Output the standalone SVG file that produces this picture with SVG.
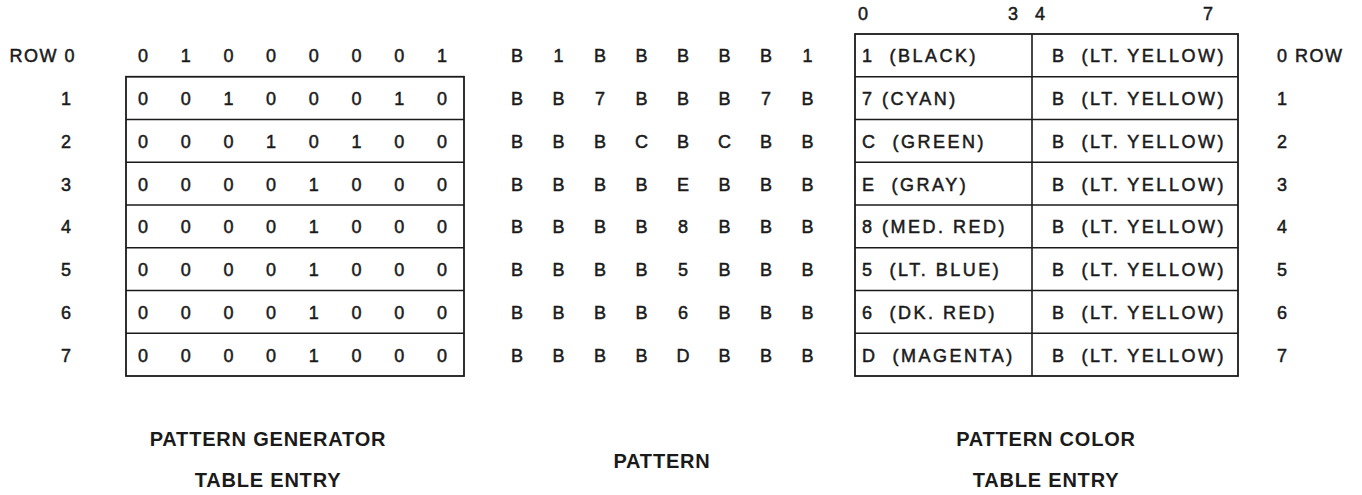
<svg xmlns="http://www.w3.org/2000/svg" width="1362" height="495" viewBox="0 0 1362 495">
<style>
text{font-family:"Liberation Sans",Arial,sans-serif;fill:#1a1a1a}
.t{font-size:18px;letter-spacing:2.5px;stroke:#1a1a1a;stroke-width:0.5}
.c{font-size:18px;text-anchor:middle;stroke:#1a1a1a;stroke-width:0.5}
.b{font-size:20px;font-weight:bold;letter-spacing:0.8px;text-anchor:middle}
.box{fill:none;stroke:#1a1a1a;stroke-width:1.8}
.ln{stroke:#1a1a1a;stroke-width:1.6}
</style>
<rect width="1362" height="495" fill="#fff"/>

<g id="row-labels-left">
<text class="t" x="76" y="62.3" text-anchor="end" style="letter-spacing:1.5px">ROW 0</text>
<text class="c" x="66" y="105">1</text>
<text class="c" x="66" y="147.8">2</text>
<text class="c" x="66" y="190.5">3</text>
<text class="c" x="66" y="233.3">4</text>
<text class="c" x="66" y="276">5</text>
<text class="c" x="66" y="318.8">6</text>
<text class="c" x="66" y="361.5">7</text>
</g>

<g id="pattern-generator-table">
<rect class="box" x="126" y="76.75" width="338" height="299.25"/>
<line class="ln" x1="126" y1="119.5" x2="464" y2="119.5"/>
<line class="ln" x1="126" y1="162.25" x2="464" y2="162.25"/>
<line class="ln" x1="126" y1="205" x2="464" y2="205"/>
<line class="ln" x1="126" y1="247.75" x2="464" y2="247.75"/>
<line class="ln" x1="126" y1="290.5" x2="464" y2="290.5"/>
<line class="ln" x1="126" y1="333.25" x2="464" y2="333.25"/>
<text class="c" y="62.3"><tspan x="143">0</tspan><tspan x="185.7">1</tspan><tspan x="228.4">0</tspan><tspan x="271.1">0</tspan><tspan x="313.8">0</tspan><tspan x="356.5">0</tspan><tspan x="399.2">0</tspan><tspan x="441.9">1</tspan></text>
<text class="c" y="105"><tspan x="143">0</tspan><tspan x="185.7">0</tspan><tspan x="228.4">1</tspan><tspan x="271.1">0</tspan><tspan x="313.8">0</tspan><tspan x="356.5">0</tspan><tspan x="399.2">1</tspan><tspan x="441.9">0</tspan></text>
<text class="c" y="147.8"><tspan x="143">0</tspan><tspan x="185.7">0</tspan><tspan x="228.4">0</tspan><tspan x="271.1">1</tspan><tspan x="313.8">0</tspan><tspan x="356.5">1</tspan><tspan x="399.2">0</tspan><tspan x="441.9">0</tspan></text>
<text class="c" y="190.5"><tspan x="143">0</tspan><tspan x="185.7">0</tspan><tspan x="228.4">0</tspan><tspan x="271.1">0</tspan><tspan x="313.8">1</tspan><tspan x="356.5">0</tspan><tspan x="399.2">0</tspan><tspan x="441.9">0</tspan></text>
<text class="c" y="233.3"><tspan x="143">0</tspan><tspan x="185.7">0</tspan><tspan x="228.4">0</tspan><tspan x="271.1">0</tspan><tspan x="313.8">1</tspan><tspan x="356.5">0</tspan><tspan x="399.2">0</tspan><tspan x="441.9">0</tspan></text>
<text class="c" y="276"><tspan x="143">0</tspan><tspan x="185.7">0</tspan><tspan x="228.4">0</tspan><tspan x="271.1">0</tspan><tspan x="313.8">1</tspan><tspan x="356.5">0</tspan><tspan x="399.2">0</tspan><tspan x="441.9">0</tspan></text>
<text class="c" y="318.8"><tspan x="143">0</tspan><tspan x="185.7">0</tspan><tspan x="228.4">0</tspan><tspan x="271.1">0</tspan><tspan x="313.8">1</tspan><tspan x="356.5">0</tspan><tspan x="399.2">0</tspan><tspan x="441.9">0</tspan></text>
<text class="c" y="361.5"><tspan x="143">0</tspan><tspan x="185.7">0</tspan><tspan x="228.4">0</tspan><tspan x="271.1">0</tspan><tspan x="313.8">1</tspan><tspan x="356.5">0</tspan><tspan x="399.2">0</tspan><tspan x="441.9">0</tspan></text>
</g>

<g id="pattern">
<text class="c" y="62.3"><tspan x="517">B</tspan><tspan x="558.5">1</tspan><tspan x="600">B</tspan><tspan x="641.5">B</tspan><tspan x="683">B</tspan><tspan x="724.5">B</tspan><tspan x="766">B</tspan><tspan x="807.5">1</tspan></text>
<text class="c" y="105"><tspan x="517">B</tspan><tspan x="558.5">B</tspan><tspan x="600">7</tspan><tspan x="641.5">B</tspan><tspan x="683">B</tspan><tspan x="724.5">B</tspan><tspan x="766">7</tspan><tspan x="807.5">B</tspan></text>
<text class="c" y="147.8"><tspan x="517">B</tspan><tspan x="558.5">B</tspan><tspan x="600">B</tspan><tspan x="641.5">C</tspan><tspan x="683">B</tspan><tspan x="724.5">C</tspan><tspan x="766">B</tspan><tspan x="807.5">B</tspan></text>
<text class="c" y="190.5"><tspan x="517">B</tspan><tspan x="558.5">B</tspan><tspan x="600">B</tspan><tspan x="641.5">B</tspan><tspan x="683">E</tspan><tspan x="724.5">B</tspan><tspan x="766">B</tspan><tspan x="807.5">B</tspan></text>
<text class="c" y="233.3"><tspan x="517">B</tspan><tspan x="558.5">B</tspan><tspan x="600">B</tspan><tspan x="641.5">B</tspan><tspan x="683">8</tspan><tspan x="724.5">B</tspan><tspan x="766">B</tspan><tspan x="807.5">B</tspan></text>
<text class="c" y="276"><tspan x="517">B</tspan><tspan x="558.5">B</tspan><tspan x="600">B</tspan><tspan x="641.5">B</tspan><tspan x="683">5</tspan><tspan x="724.5">B</tspan><tspan x="766">B</tspan><tspan x="807.5">B</tspan></text>
<text class="c" y="318.8"><tspan x="517">B</tspan><tspan x="558.5">B</tspan><tspan x="600">B</tspan><tspan x="641.5">B</tspan><tspan x="683">6</tspan><tspan x="724.5">B</tspan><tspan x="766">B</tspan><tspan x="807.5">B</tspan></text>
<text class="c" y="361.5"><tspan x="517">B</tspan><tspan x="558.5">B</tspan><tspan x="600">B</tspan><tspan x="641.5">B</tspan><tspan x="683">D</tspan><tspan x="724.5">B</tspan><tspan x="766">B</tspan><tspan x="807.5">B</tspan></text>
</g>

<g id="pattern-color-table">
<text class="c" y="19.5"><tspan x="863">0</tspan><tspan x="1013">3</tspan><tspan x="1040">4</tspan><tspan x="1208">7</tspan></text>
<rect class="box" x="855" y="34" width="383" height="342"/>
<line class="ln" x1="1032" y1="34" x2="1032" y2="376"/>
<line class="ln" x1="855" y1="76.75" x2="1238" y2="76.75"/>
<line class="ln" x1="855" y1="119.5" x2="1238" y2="119.5"/>
<line class="ln" x1="855" y1="162.25" x2="1238" y2="162.25"/>
<line class="ln" x1="855" y1="205" x2="1238" y2="205"/>
<line class="ln" x1="855" y1="247.75" x2="1238" y2="247.75"/>
<line class="ln" x1="855" y1="290.5" x2="1238" y2="290.5"/>
<line class="ln" x1="855" y1="333.25" x2="1238" y2="333.25"/>
<text class="t" x="862" y="62.3" xml:space="preserve">1  (BLACK)</text>
<text class="t" x="862" y="105">7 (CYAN)</text>
<text class="t" x="862" y="147.8" xml:space="preserve">C  (GREEN)</text>
<text class="t" x="862" y="190.5" xml:space="preserve">E  (GRAY)</text>
<text class="t" x="862" y="233.3">8 (MED. RED)</text>
<text class="t" x="862" y="276" xml:space="preserve">5  (LT. BLUE)</text>
<text class="t" x="862" y="318.8" xml:space="preserve">6  (DK. RED)</text>
<text class="t" x="862" y="361.5" xml:space="preserve">D  (MAGENTA)</text>
<text class="t" x="1052" y="62.3" xml:space="preserve">B  (LT. YELLOW)</text>
<text class="t" x="1052" y="105" xml:space="preserve">B  (LT. YELLOW)</text>
<text class="t" x="1052" y="147.8" xml:space="preserve">B  (LT. YELLOW)</text>
<text class="t" x="1052" y="190.5" xml:space="preserve">B  (LT. YELLOW)</text>
<text class="t" x="1052" y="233.3" xml:space="preserve">B  (LT. YELLOW)</text>
<text class="t" x="1052" y="276" xml:space="preserve">B  (LT. YELLOW)</text>
<text class="t" x="1052" y="318.8" xml:space="preserve">B  (LT. YELLOW)</text>
<text class="t" x="1052" y="361.5" xml:space="preserve">B  (LT. YELLOW)</text>
</g>

<g id="row-labels-right">
<text class="t" x="1277" y="62.3" style="letter-spacing:1.5px">0 ROW</text>
<text class="t" x="1277" y="105">1</text>
<text class="t" x="1277" y="147.8">2</text>
<text class="t" x="1277" y="190.5">3</text>
<text class="t" x="1277" y="233.3">4</text>
<text class="t" x="1277" y="276">5</text>
<text class="t" x="1277" y="318.8">6</text>
<text class="t" x="1277" y="361.5">7</text>
</g>

<g id="captions">
<text class="b" x="268" y="446">PATTERN GENERATOR</text>
<text class="b" x="268" y="487">TABLE ENTRY</text>
<text class="b" x="662" y="468">PATTERN</text>
<text class="b" x="1046" y="446">PATTERN COLOR</text>
<text class="b" x="1046" y="487">TABLE ENTRY</text>
</g>

<g id="connectors"></g>
</svg>
